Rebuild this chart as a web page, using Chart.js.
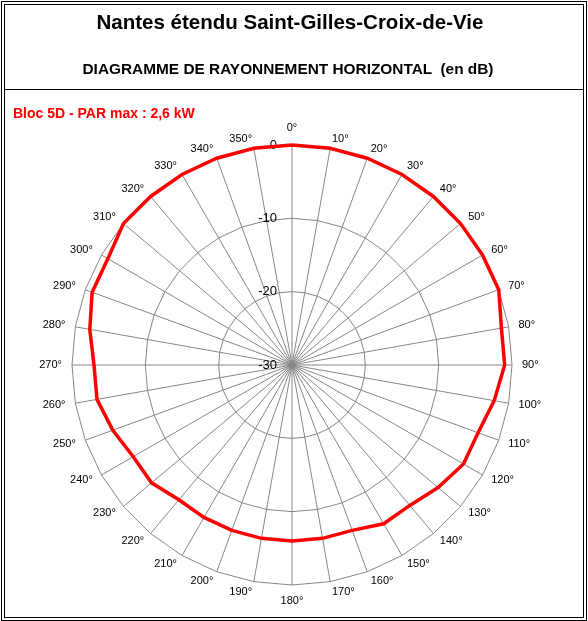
<!DOCTYPE html>
<html>
<head>
<meta charset="utf-8">
<script src="https://cdn.jsdelivr.net/npm/chart.js@4.4.0/dist/chart.umd.min.js"></script>
<style>
  body { margin: 0; background: #fff; }
  #page { position: relative; width: 588px; height: 621px; overflow: hidden; font-family: "Liberation Sans", Arial, sans-serif; }
  #myChart { position: absolute; left: 0; top: 0; }
  .box { position: absolute; box-sizing: border-box; border: 1px solid #000; }
  .txt { position: absolute; white-space: pre; font-weight: bold; line-height: 1; }
</style>
</head>
<body>
<div id="page">
  <canvas id="myChart" width="588" height="621"></canvas>
  <div class="box" style="left:1px;top:1px;width:586px;height:620px;"></div>
  <div class="box" style="left:4px;top:4px;width:580px;height:614px;"></div>
  <div style="position:absolute;left:4px;top:89px;width:580px;height:1px;background:#000;"></div>
  <div class="txt" style="left:0;width:580px;text-align:center;top:12px;font-size:20.5px;color:#000;">Nantes étendu Saint-Gilles-Croix-de-Vie</div>
  <div class="txt" style="left:0;width:576px;text-align:center;top:61px;font-size:15.4px;color:#000;">DIAGRAMME DE RAYONNEMENT HORIZONTAL  (en dB)</div>
  <div class="txt" style="left:13px;top:106px;font-size:14px;color:#ff0000;">Bloc 5D - PAR max : 2,6 kW</div>
</div>
<script>
var angles = [0, 10, 20, 30, 40, 50, 60, 70, 80, 90, 100, 110,
              120, 130, 140, 150, 160, 170, 180, 190, 200, 210, 220, 230,
              240, 250, 260, 270, 280, 290, 300, 310, 320, 330, 340, 350];
var attenuation = [0, 0, 0, 0, 0, 0, 0, 0, -1, -1, -2, -3,
                   -3, -4, -5, -5, -6, -6, -6, -6, -6, -6, -6, -5,
                   -5, -4, -3, -3, -2, -1, -1, 0, 0, 0, 0, 0];
var radialTicks = [-30, -20, -10, 0];
var serieNom = "Bloc 5D";

var labels = angles.map(function (a) { return a + "°"; });

// etiquettes des ticks et des angles dessinees a partir de l'echelle r
var polarLabels = {
    id: "polarLabels",
    beforeDatasetsDraw: function (chart) {
        var scale = chart.scales.r;
        var ctx = chart.ctx;
        ctx.save();
        ctx.font = '13px "Liberation Sans", Arial, sans-serif';
        ctx.fillStyle = "#000";
        ctx.textAlign = "right";
        ctx.textBaseline = "middle";
        radialTicks.forEach(function (v) {
            var d = scale.getDistanceFromCenterForValue(v);
            ctx.fillText(String(v), scale.xCenter - 15, scale.yCenter - d);
        });
        ctx.restore();
    },
    afterDraw: function (chart) {
        var scale = chart.scales.r;
        var ctx = chart.ctx;
        ctx.save();
        ctx.font = '11px "Liberation Sans", Arial, sans-serif';
        ctx.fillStyle = "#000";
        ctx.textBaseline = "middle";
        for (var i = 0; i < angles.length; i++) {
            var a = angles[i];
            var pad = 10;
            if (a === 0) pad = 17.5;
            if (a === 180) pad = 16;
            var p = scale.getPointPosition(i, scale.drawingArea + pad);
            if (a === 0 || a === 180) ctx.textAlign = "center";
            else if (a < 180) ctx.textAlign = "left";
            else ctx.textAlign = "right";
            ctx.fillText(labels[i], p.x, p.y);
        }
        ctx.restore();
    }
};

var data = {
    labels: labels,
    datasets: [{
        label: serieNom,
        data: attenuation,
        borderColor: "#ff0000",
        backgroundColor: "rgba(0,0,0,0)",
        borderWidth: 3.5,
        pointRadius: 0,
        fill: false,
        tension: 0
    }]
};

var config = {
    type: "radar",
    data: data,
    options: {
        responsive: false,
        animation: false,
        layout: { padding: { left: 72, right: 76, top: 145, bottom: 36 } },
        plugins: {
            legend: { display: false },
            tooltip: { enabled: false }
        },
        scales: {
            r: {
                min: -30,
                max: 0,
                ticks: { display: false, stepSize: 10 },
                pointLabels: { display: false },
                grid: { color: "#868686", lineWidth: 1, circular: false },
                angleLines: { color: "#868686", lineWidth: 1 }
            }
        }
    },
    plugins: [polarLabels]
};

var myChart = new Chart(document.getElementById("myChart"), config);
</script>
</body>
</html>
